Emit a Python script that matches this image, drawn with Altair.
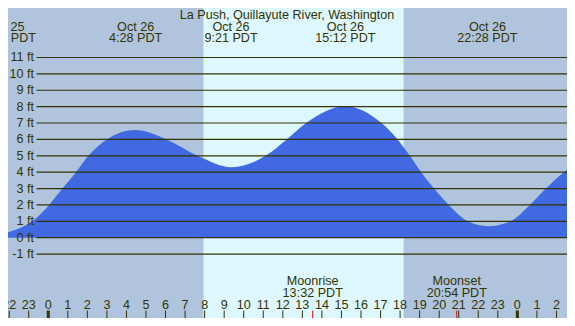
import altair as alt
import pandas as pd

# ---------------- data ----------------
tide_hours = [-2.16, -1.5, -0.82, 0.04, 0.72, 1.42, 2.05, 3.0, 4.45, 6.05,
              7.64, 9.37, 11.12, 12.2, 13.19, 15.2, 17.05, 17.87, 18.5, 19.08,
              19.74, 20.49, 21.48, 22.5, 23.64, 24.64, 25.46, 26.38, 26.54]
tide_feet = [0.30, 0.56, 1.0, 2.0, 3.0, 4.0, 5.0, 6.0, 6.57, 6.0,
             5.0, 4.3, 5.0, 6.0, 7.0, 8.03, 7.0, 6.0, 5.0, 4.0,
             3.0, 2.0, 1.0, 0.7, 1.0, 2.0, 3.0, 4.0, 4.15]

ext_dates = ["Oct 25", "Oct 26", "Oct 26", "Oct 26", "Oct 26"]
ext_times = ["21:50", "4:28", "9:21", "15:12", "22:28"]
ext_hours = [-2.17, 4.47, 9.35, 15.2, 22.47]

moon_events = ["Moonrise", "Moonset"]
moon_times = ["13:32", "20:54"]
moon_hours = [13.53, 20.9]

sunrise_hour = 7.94
sunset_hour = 18.18

ft_levels = list(range(-1, 12))
hour_ticks = list(range(-2, 27))

title_text = "La Push, Quillayute River, Washington"

# ---------------- layout / style ----------------
W, H = 559, 310
X_DOM = [-2.06, 26.54]
Y_DOM = [-4.9, 14.02]
NIGHT = "#B0C4DE"
DAY = "#DEF8FF"
FILL = "#4169E1"
INK = "#333300"
FONT = "Liberation Sans"
FS = 12.6

xs = alt.Scale(domain=X_DOM, nice=False, zero=False)
ys = alt.Scale(domain=Y_DOM, nice=False, zero=False)

tide = pd.DataFrame({"h": tide_hours, "ft": tide_feet})
ext = pd.DataFrame({"h": ext_hours, "date": ext_dates,
                    "time": [t + " PDT" for t in ext_times]})
moon = pd.DataFrame({"h": moon_hours, "event": moon_events,
                     "time": [t + " PDT" for t in moon_times]})
levels = pd.DataFrame({"ft": ft_levels, "lab": [f"{v} ft" for v in ft_levels]})
hours = pd.DataFrame({"h": hour_ticks, "lab": [str(v % 24) for v in hour_ticks]})
sun = pd.DataFrame({"rise": [sunrise_hour], "set": [sunset_hour]})
title_df = pd.DataFrame({"t": [title_text]})

day = alt.Chart(sun).mark_rect(color=DAY, clip=True).encode(
    x=alt.X("rise:Q", scale=xs, axis=None),
    x2="set:Q",
    y=alt.value(0), y2=alt.value(H))

area = alt.Chart(tide).mark_area(color=FILL, interpolate="monotone", clip=True).encode(
    x=alt.X("h:Q", scale=xs, axis=None),
    y=alt.Y("ft:Q", scale=ys, axis=None),
    y2=alt.value(H))

rules = alt.Chart(levels).mark_rule(color=INK, strokeWidth=1.2).encode(
    y=alt.Y("ft:Q", scale=ys, axis=None),
    x=alt.value(28.5), x2=alt.value(W))

ylabels = alt.Chart(levels).mark_text(
    align="right", baseline="middle", font=FONT, fontSize=FS, color=INK).encode(
    y=alt.Y("ft:Q", scale=ys, axis=None), x=alt.value(26), text="lab:N")

title = alt.Chart(title_df).mark_text(
    align="center", baseline="middle", font=FONT, fontSize=FS, color=INK).encode(
    x=alt.value(W / 2 - 0.5), y=alt.value(6.8), text="t:N")

ext_date = alt.Chart(ext).mark_text(
    align="center", baseline="middle", font=FONT, fontSize=FS, color=INK).encode(
    x=alt.X("h:Q", scale=xs, axis=None), y=alt.value(18.6), text="date:N")
ext_time = alt.Chart(ext).mark_text(
    align="center", baseline="middle", font=FONT, fontSize=FS, color=INK).encode(
    x=alt.X("h:Q", scale=xs, axis=None), y=alt.value(29.9), text="time:N")

moon_ev = alt.Chart(moon).mark_text(
    align="center", baseline="middle", font=FONT, fontSize=FS, color=INK).encode(
    x=alt.X("h:Q", scale=xs, axis=None), y=alt.value(273.2), text="event:N")
moon_tm = alt.Chart(moon).mark_text(
    align="center", baseline="middle", font=FONT, fontSize=FS, color=INK).encode(
    x=alt.X("h:Q", scale=xs, axis=None), y=alt.value(284.7), text="time:N")

hour_labels = alt.Chart(hours).mark_text(
    align="center", baseline="middle", font=FONT, fontSize=FS, color=INK).encode(
    x=alt.X("h:Q", scale=xs, axis=None), y=alt.value(296.5), text="lab:N")

hour_tick_marks = alt.Chart(hours).mark_rule(color=INK).encode(
    x=alt.X("h:Q", scale=xs, axis=None),
    y=alt.value(302.5), y2=alt.value(H),
    strokeWidth=alt.condition("datum.h % 24 == 0", alt.value(3), alt.value(1)))

moon_ticks = alt.Chart(moon).mark_rule(color="#E00000", strokeWidth=1).encode(
    x=alt.X("h:Q", scale=xs, axis=None),
    y=alt.value(302.5), y2=alt.value(H))

chart = alt.layer(
    day, area, rules, ylabels, title, ext_date, ext_time,
    moon_ev, moon_tm, hour_labels, hour_tick_marks, moon_ticks
).properties(
    width=W, height=H, background=NIGHT, padding=0,
    autosize=alt.AutoSizeParams(type="none")
).configure_view(stroke=None)

chart.save("out.html", embed_options={"renderer": "svg", "actions": False})
